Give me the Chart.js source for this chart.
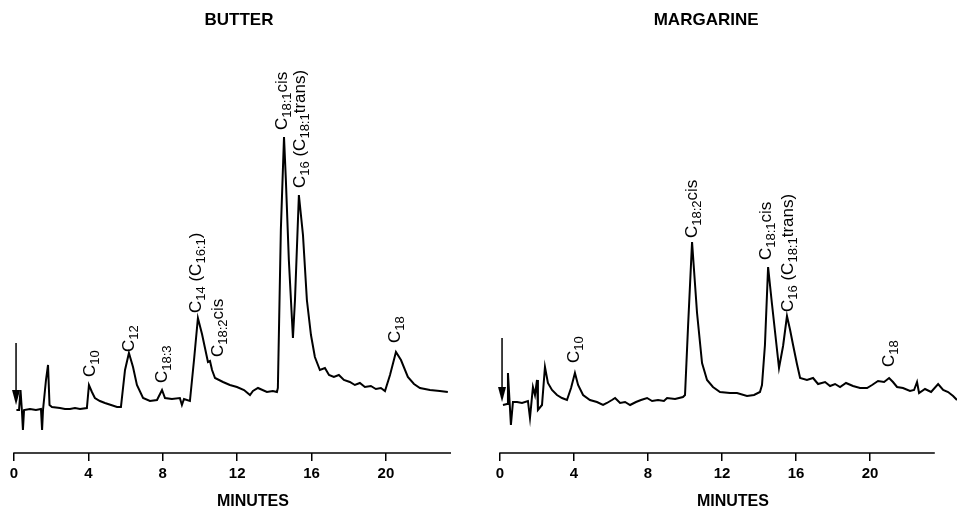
<!DOCTYPE html>
<html>
<head>
<meta charset="utf-8">
<script src="https://cdn.jsdelivr.net/npm/chart.js@4.4.1/dist/chart.umd.min.js"></script>
<style>
  body { margin: 0; background: #fff; }
  #wrap { position: relative; width: 960px; height: 509px; }
  canvas { position: absolute; top: 0; }
  #butter { left: 0; }
  #margarine { left: 480px; }
</style>
</head>
<body>
<div id="wrap">
  <canvas id="butter" width="480" height="509"></canvas>
  <canvas id="margarine" width="480" height="509"></canvas>
</div>
<script>
// tick labels of the time axis (minutes)
var minuteTicks = [0, 4, 8, 12, 16, 20];
var axisEndMinute = 23.5;

// BUTTER chromatogram (time in minutes, detector response)
var butterMinutes = [0.13, 0.27, 0.35, 0.43, 0.48, 0.54, 0.86, 1.18, 1.45, 1.51, 1.56, 1.72, 1.83, 1.91, 2.04, 2.47, 2.74, 3.01, 3.28, 3.55,
  3.92, 4.03, 4.19, 4.35, 4.62, 4.89, 5.22, 5.54, 5.75, 5.97, 6.18, 6.40, 6.61, 6.94, 7.31, 7.69, 7.96, 8.12, 8.49, 8.92,
  9.03, 9.14, 9.46, 9.68, 9.89, 10.11, 10.27, 10.43, 10.54, 10.65, 10.81, 11.24, 11.61, 11.99, 12.37, 12.69, 12.85, 13.12, 13.60, 13.92,
  14.14, 14.19, 14.35, 14.52, 14.62, 14.78, 15.00, 15.11, 15.32, 15.54, 15.75, 15.97, 16.18, 16.45, 16.72, 16.94, 17.20, 17.47, 17.74, 18.06,
  18.33, 18.60, 18.87, 19.19, 19.46, 19.73, 19.95, 20.22, 20.54, 20.81, 21.18, 21.51, 21.83, 22.37, 22.90, 23.33];
var butterSignal = [43, 43, 63, 41, 23, 43, 44, 43, 44, 23, 43, 73, 88, 48, 46, 45, 44, 44, 45, 44,
  45, 68, 61, 55, 52, 50, 48, 46, 46, 83, 100, 86, 68, 55, 52, 53, 63, 55, 54, 55,
  48, 54, 52, 93, 135, 119, 105, 91, 92, 83, 75, 71, 68, 66, 63, 58, 62, 65, 61, 62,
  61, 65, 223, 316, 273, 193, 115, 153, 258, 218, 153, 118, 96, 83, 85, 78, 76, 78, 73, 71,
  68, 70, 66, 67, 64, 65, 62, 78, 101, 93, 76, 69, 65, 63, 62, 61];
var butterPeakNames = ['C[10]', 'C[12]', 'C[18:3]', 'C[14] (C[16:1])', 'C[18:2]cis', 'C[18:1]cis', 'C[16] (C[18:1]trans)', 'C[18]'];
var butterPeakMinutes = [4.14, 6.24, 8.01, 9.84, 11.02, 14.46, 15.43, 20.54];
var butterPeakHeights = [76, 101, 70, 140, 96, 323, 265, 110];
var butterInjection = [0.11, 110, 48];   // minute, arrow top, arrow tip

// MARGARINE chromatogram
var margarineMinutes = [0.16, 0.38, 0.43, 0.59, 0.70, 0.92, 1.19, 1.51, 1.62, 1.78, 1.89, 2.00, 2.05, 2.27, 2.43, 2.59, 2.81, 3.08, 3.35, 3.62,
  3.84, 4.05, 4.22, 4.49, 4.86, 5.24, 5.57, 5.78, 6.05, 6.22, 6.49, 6.76, 7.03, 7.35, 7.62, 7.95, 8.22, 8.54, 8.86, 9.03,
  9.46, 9.89, 10.00, 10.16, 10.38, 10.65, 10.92, 11.19, 11.51, 11.89, 12.43, 12.81, 13.35, 13.73, 14.05, 14.16, 14.32, 14.49, 14.70, 15.08,
  15.30, 15.51, 15.68, 15.84, 16.05, 16.22, 16.59, 16.92, 17.19, 17.57, 17.84, 18.11, 18.38, 18.70, 19.08, 19.46, 19.84, 20.11, 20.43, 20.76,
  21.03, 21.24, 21.46, 21.78, 22.16, 22.38, 22.54, 22.65, 22.97, 23.30, 23.68, 23.95, 24.22, 24.49, 24.70];
var margarineSignal = [48, 49, 80, 28, 51, 51, 50, 52, 35, 66, 58, 73, 43, 48, 86, 70, 63, 58, 55, 53,
  65, 80, 68, 58, 53, 51, 48, 50, 53, 55, 50, 51, 48, 51, 53, 55, 52, 53, 52, 55,
  54, 56, 58, 125, 211, 140, 90, 73, 66, 61, 60, 60, 57, 58, 61, 68, 108, 186, 149, 85,
  107, 137, 123, 108, 89, 75, 73, 75, 69, 71, 67, 69, 66, 70, 67, 65, 65, 68, 72, 71,
  75, 71, 66, 65, 62, 63, 71, 60, 64, 61, 69, 63, 61, 57, 53];
var margarinePeakNames = ['C[10]', 'C[18:2]cis', 'C[18:1]cis', 'C[16] (C[18:1]trans)', 'C[18]'];
var margarinePeakMinutes = [4.05, 10.43, 14.43, 15.62, 21.08];
var margarinePeakHeights = [90, 215, 193, 141, 86];
var margarineInjection = [0.11, 115, 51];

var FONT = "'Liberation Sans', Arial, sans-serif";

// rotated peak name, text in [] is a subscript
function drawPeakLabel(ctx, text, x, y) {
  var parts = text.split(/(\[[^\]]*\])/).filter(function (p) { return p.length > 0; });
  ctx.save();
  ctx.translate(x, y);
  ctx.rotate(-Math.PI / 2);
  ctx.textAlign = 'left';
  ctx.textBaseline = 'alphabetic';
  var pos = 0;
  parts.forEach(function (p) {
    var sub = p.charAt(0) === '[';
    var s = sub ? p.slice(1, -1) : p;
    ctx.font = (sub ? '13px ' : '17px ') + FONT;
    ctx.fillText(s, pos, sub ? 8 : 4);
    pos += ctx.measureText(s).width;
  });
  ctx.restore();
}

function drawArrow(ctx, x, yTop, yTip) {
  ctx.save();
  ctx.strokeStyle = '#000';
  ctx.fillStyle = '#000';
  ctx.lineWidth = 1.5;
  ctx.beginPath();
  ctx.moveTo(x, yTop);
  ctx.lineTo(x, yTip - 10);
  ctx.stroke();
  ctx.beginPath();
  ctx.moveTo(x - 4, yTip - 15);
  ctx.lineTo(x + 4, yTip - 15);
  ctx.lineTo(x, yTip);
  ctx.closePath();
  ctx.fill();
  ctx.restore();
}

var chromLabels = {
  id: 'chromLabels',
  afterDatasetsDraw: function (chart, args, opts) {
    var ctx = chart.ctx, xs = chart.scales.x, ys = chart.scales.y;
    var bottom = chart.chartArea.bottom;
    ctx.save();
    // time axis line, it stops before the end of the trace
    ctx.strokeStyle = '#000';
    ctx.lineWidth = 1.5;
    ctx.beginPath();
    ctx.moveTo(xs.getPixelForValue(0) - 0.75, bottom);
    ctx.lineTo(xs.getPixelForValue(axisEndMinute), bottom);
    ctx.stroke();

    ctx.fillStyle = '#000';
    opts.names.forEach(function (name, i) {
      drawPeakLabel(ctx, name, xs.getPixelForValue(opts.minutes[i]), ys.getPixelForValue(opts.heights[i]));
    });
    drawArrow(ctx, xs.getPixelForValue(opts.arrow[0]), ys.getPixelForValue(opts.arrow[1]), ys.getPixelForValue(opts.arrow[2]));
    ctx.textAlign = 'center';
    ctx.textBaseline = 'middle';
    ctx.font = 'bold 17px ' + FONT;
    ctx.fillText(opts.title, xs.getPixelForValue(opts.titleAt), 20);
    ctx.font = 'bold 16px ' + FONT;
    ctx.fillText('MINUTES', xs.getPixelForValue(opts.axisTitleAt), 502);
    ctx.restore();
  }
};

function makeChart(id, minutes, signal, xMax, padLeft, padRight, labelOpts) {
  var points = minutes.map(function (m, i) { return { x: m, y: signal[i] }; });
  return new Chart(document.getElementById(id), {
    type: 'line',
    data: {
      datasets: [{
        data: points,
        borderColor: '#000',
        borderWidth: 2,
        pointRadius: 0,
        tension: 0,
        fill: false
      }]
    },
    options: {
      responsive: false,
      animation: false,
      layout: { padding: { left: padLeft, right: padRight, top: 40, bottom: 0 } },
      plugins: {
        legend: { display: false },
        tooltip: { enabled: false },
        chromLabels: labelOpts
      },
      scales: {
        x: {
          type: 'linear',
          min: 0,
          max: xMax,
          afterBuildTicks: function (axis) {
            axis.ticks = minuteTicks.map(function (v) { return { value: v }; });
          },
          afterFit: function (axis) { axis.height = 56; },
          grid: { drawOnChartArea: false, drawTicks: true, tickLength: 8, color: '#000', lineWidth: 1.5 },
          border: { display: false },
          ticks: { color: '#000', padding: 4, maxRotation: 0, autoSkip: false, font: { family: FONT, size: 15, weight: 'bold' } }
        },
        y: { display: false, min: 0, max: 413 }
      }
    },
    plugins: [chromLabels]
  });
}

makeChart('butter', butterMinutes, butterSignal, 23.5, 14, 29, {
  names: butterPeakNames, minutes: butterPeakMinutes, heights: butterPeakHeights,
  arrow: butterInjection, title: 'BUTTER', titleAt: 12.1, axisTitleAt: 12.85
});

makeChart('margarine', margarineMinutes, margarineSignal, 24.7, 20, 3, {
  names: margarinePeakNames, minutes: margarinePeakMinutes, heights: margarinePeakHeights,
  arrow: margarineInjection, title: 'MARGARINE', titleAt: 11.14, axisTitleAt: 12.59
});
</script>
</body>
</html>
